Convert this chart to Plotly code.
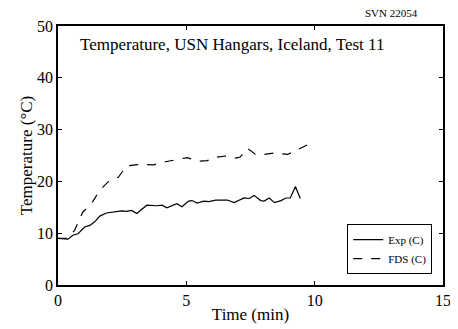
import plotly.graph_objects as go

exp_time = [0.0, 0.39, 0.58, 0.78, 1.04, 1.24, 1.43, 1.63, 1.89, 2.28, 2.48, 2.67, 2.87, 3.07,
            3.46, 3.85, 4.05, 4.24, 4.63, 4.83, 5.09, 5.22, 5.42, 5.68, 5.88, 6.14, 6.6, 6.86,
            7.25, 7.45, 7.64, 7.9, 8.03, 8.23, 8.43, 8.69, 8.88, 9.05, 9.25, 9.44]
exp_temp = [9.0, 8.85, 9.6, 9.9, 11.2, 11.5, 12.2, 13.3, 13.9, 14.2, 14.3, 14.2, 14.4, 13.8,
            15.4, 15.3, 15.4, 14.9, 15.7, 15.1, 16.2, 16.3, 15.8, 16.2, 16.1, 16.4, 16.4, 15.9,
            16.8, 16.7, 17.3, 16.3, 16.2, 16.8, 15.9, 16.3, 16.8, 16.8, 19.0, 16.7]

fds_time = [0.0, 0.39, 0.65, 0.97, 1.3, 1.63, 1.95, 2.35, 2.67, 3.2, 3.72, 4.18, 4.63, 5.03,
            5.48, 5.81, 6.2, 6.53, 6.92, 7.1, 7.38, 7.7, 8.03, 8.43, 8.95, 9.34, 9.73]
fds_temp = [9.0, 9.0, 10.6, 14.1, 15.7, 18.3, 19.9, 20.8, 23.0, 23.3, 23.2, 23.8, 24.2, 24.6,
            23.9, 24.0, 24.7, 24.9, 24.5, 24.7, 26.4, 25.2, 25.2, 25.5, 25.2, 26.2, 27.1]

x_ticks = [0, 5, 10, 15]
y_ticks = [0, 10, 20, 30, 40, 50]

FONT = "Times New Roman, Liberation Serif, DejaVu Serif, serif"

fig = go.Figure()
fig.add_trace(go.Scatter(x=exp_time, y=exp_temp, mode="lines", name="Exp (C)",
                         line=dict(color="black", width=1.2)))
fig.add_trace(go.Scatter(x=fds_time, y=fds_temp, mode="lines", name="FDS (C)",
                         line=dict(color="black", width=1.2, dash="dash")))

axis_common = dict(showline=True, linecolor="black", linewidth=1.5, mirror="ticks",
                   ticks="inside", ticklen=4, tickcolor="black", showgrid=False,
                   zeroline=False, automargin=False,
                   tickfont=dict(family=FONT, size=16, color="black"))

fig.update_layout(
    width=450, height=321,
    margin=dict(l=50, r=15, t=18, b=44, pad=0),
    paper_bgcolor="white", plot_bgcolor="white",
    font=dict(family=FONT, color="black"),
    showlegend=True,
    legend=dict(x=0.972, y=0.042, xanchor="right", yanchor="bottom",
                bgcolor="white", bordercolor="black", borderwidth=1,
                font=dict(family=FONT, size=11, color="black"),
                tracegroupgap=0, itemwidth=30),
    xaxis=dict(range=[0, 15], tickvals=x_ticks, ticktext=[str(v) for v in x_ticks],
               title=dict(text="Time (min)", font=dict(family=FONT, size=17), standoff=0),
               **axis_common),
    yaxis=dict(range=[0, 50], tickvals=y_ticks, ticktext=[str(v) for v in y_ticks],
               title=dict(text="Temperature (°C)", font=dict(family=FONT, size=17), standoff=0),
               **axis_common),
    annotations=[
        dict(text="Temperature, USN Hangars, Iceland, Test 11", xref="paper", yref="paper",
             x=0.051, y=0.927, xanchor="left", yanchor="middle", showarrow=False,
             font=dict(family=FONT, size=17, color="black")),
        dict(text="SVN 22054", xref="paper", yref="paper", x=0.866, y=1.049,
             xanchor="center", yanchor="middle", showarrow=False,
             font=dict(family=FONT, size=11, color="black")),
    ],
)

fig.write_html("out.html")
